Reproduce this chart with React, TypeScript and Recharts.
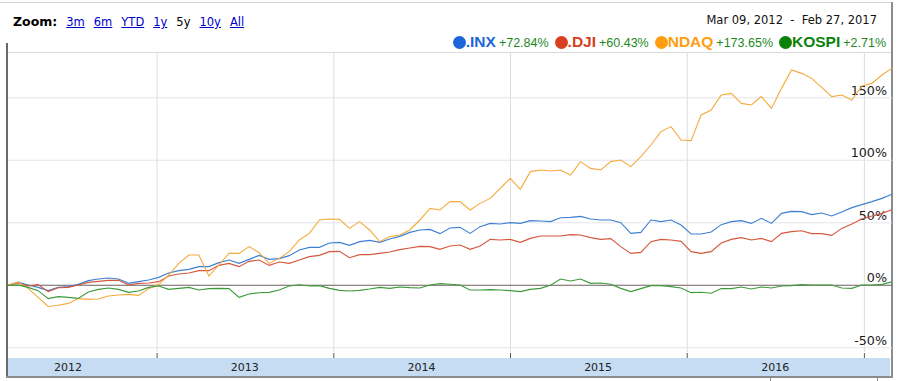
import { Line, LineChart, ReferenceLine, XAxis, YAxis } from 'recharts'

// 5y window, sampled about every three weeks
const START = Date.UTC(2012, 1, 28)
const END = Date.UTC(2017, 1, 27)

const inx = [
  0, 2.6, 0.2, -1.7, -4.3, -1.7, -1.1, 0.7, 3.7, 5, 5.8, 5, 1.5, 2.9, 4.2, 6.3, 9.8, 11.7, 12.7, 14.9, 14.9, 18.1, 20.2,
  17.5, 20.7, 23.9, 20.7, 21.3, 23.7, 28.2, 30.3, 30.3, 33.8, 34.3, 31.9, 34.9, 35.9, 34.3, 37, 39.1, 42.3, 44.2, 44.7, 41.3, 45.8,
  46.3, 41.5, 46.9, 49.5, 49, 50.1, 49.5, 51.7, 51.4, 50.9, 54, 54.3, 55.1, 53, 52.2, 52.2, 50.1, 41.5, 42.3, 52.2, 50.9, 52.2,
  48.2, 41, 41, 42.6, 48.5, 50.9, 51.7, 49.5, 53.5, 49.5, 57.5, 59.1, 58.9, 56.5, 57.8, 55.4, 58.6, 62.1, 64.5, 66.9, 69.5, 72.84,
]
const dji = [
  0, 1.8, -0.6, 0.5, -5.1, -2, -1.7, 0.2, 2.3, 3.1, 3.9, 3.9, 0.2, 1.5, 1.8, 2.9, 7.4, 9, 9.8, 11.7, 11.7, 15.9, 17.5,
  14.9, 19.1, 20.2, 15.9, 18.6, 17.5, 20.2, 22.9, 23.9, 26.9, 27.1, 22, 24.5, 24.5, 25.5, 26.6, 28.5, 29.8, 31.1, 30.9, 28.7, 31.4,
  32.2, 28.7, 31.4, 36.7, 36.2, 36.7, 34.3, 37.5, 39.4, 39.4, 39.4, 40.5, 40.2, 38.1, 36.7, 37.3, 30.9, 25.5, 26.3, 34.9, 36.7, 36.2,
  35.1, 26.9, 25.5, 26.9, 33.8, 36.7, 38.1, 36.2, 37.5, 34.9, 41.5, 42.9, 43.6, 41.3, 41.3, 39.9, 45.5, 49, 53, 55.4, 57.5, 60.43,
]
const ndaq = [
  0, 2.6, -2.5, -9.7, -17, -16, -14.5, -10.7, -11.3, -11, -8.6, -7.8, -7.3, -8.1, -2.7, 0.5, 8.2, 17.5, 24.2, 24.2, 7.4, 16.2, 25.5,
  25.5, 30.9, 26, 17.5, 21.5, 26.9, 36.2, 41.5, 52.2, 53, 52.7, 45.5, 50.9, 44.2, 34.9, 38.9, 40.2, 44.2, 52.2, 61.5, 60.2, 66.9,
  66.9, 60.2, 65.5, 69.5, 77.5, 85.5, 76.7, 90.9, 92.2, 91.4, 92.2, 88.2, 98.9, 93.5, 92.2, 98.9, 100.2, 94.9, 102.9, 112.2, 122.9, 126.9,
  116.2, 115.7, 136.2, 140.2, 152.2, 153.5, 145.5, 144.2, 150.9, 141.5, 157.5, 172.2, 169.5, 165.5, 158.3, 150.9, 152.2, 148.2, 159.4, 161.5, 168.2, 173.65,
]
const kospi = [
  0, 0.2, -1.7, -4.3, -10.7, -9.1, -9.7, -10.5, -5.4, -3.3, -2.2, -3.3, -5.7, -4.6, -1.7, -0.6, -3.3, -2.5, -1.7, -3.8, -2.7, -2.5, -2.7,
  -9.7, -7, -6, -5.7, -3.8, -0.6, 0.4, -0.6, -0.3, -2.5, -4.1, -4.6, -4.1, -3, -1.7, -2.5, -1.4, -1.9, -2.2, 0.2, 1.3, 0.8,
  0.2, -3.8, -3.8, -3.5, -3.8, -4.3, -5.1, -3.3, -2.5, 0, 5, 3.4, 5, 1.5, 1.8, 0.8, -2.5, -5.1, -2.7, -0.3, -0.3, -1.1,
  -2.2, -5.9, -5.6, -6.4, -2.7, -2.7, -1.4, -3, -1.4, -2.2, -0.6, -0.3, 0.5, 0.2, 0.2, 0.2, -2.2, -2.5, 0.2, 0.2, 0.7, 2.71,
]

const yTicks = [-50, 0, 50, 100, 150]
const yearStarts = [2013, 2014, 2015, 2016, 2017].map((y) => Date.UTC(y, 0, 1))
const yearMids = [2012, 2013, 2014, 2015, 2016].map((y) => Date.UTC(y, 6, 1))

const zoomLinks = ['3m', '6m', 'YTD', '1y', '5y', '10y', 'All']
const activeZoom = '5y'

const seriesKeys = ['inx', 'dji', 'ndaq', 'kospi']
const seriesNames = ['.INX', '.DJI', 'NDAQ', 'KOSPI']
const seriesChanges = ['+72.84%', '+60.43%', '+173.65%', '+2.71%']
const legendColors = ['#1b66d8', '#d6401e', '#ff9c0f', '#0a820a']
const lineColors = ['#3f7fd3', '#d4583c', '#f4aa3a', '#3d9a3a']

const step = (END - START) / (inx.length - 1)
const data = inx.map((v, i) => ({
  t: START + i * step,
  inx: v,
  dji: dji[i],
  ndaq: ndaq[i],
  kospi: kospi[i],
}))

const FONT = '"DejaVu Sans", Verdana, sans-serif'

// percent label sitting just above its gridline, flush right
function pctLabel(value: number) {
  return (props: any) => {
    const vb = props.viewBox || {}
    return (
      <text
        x={vb.x + vb.width - 5}
        y={vb.y - 3}
        textAnchor="end"
        fontSize={12.7}
        fill="#1a1a1a"
        fontFamily={FONT}
      >
        {`${value}%`}
      </text>
    )
  }
}

// year boundaries get a small tick mark, mid-years get the year label
function TimeTick(props: any) {
  const v = props.payload.value
  if (yearStarts.includes(v)) {
    return <line x1={props.x} x2={props.x} y1={props.y - 10} y2={props.y - 5} stroke="#555" />
  }
  return (
    <text x={props.x} y={props.y} dy="0.71em" textAnchor="middle" fontSize={11} fill="#222" fontFamily={FONT}>
      {new Date(v).getUTCFullYear()}
    </text>
  )
}

const box = (left: number, top: number, width: number, height: number, background: string) => (
  <div style={{ position: 'absolute', left, top, width, height, background }} />
)

export default function App() {
  return (
    <div
      style={{
        position: 'absolute',
        left: 0,
        top: 0,
        width: 900,
        height: 381,
        background: '#fff',
        overflow: 'hidden',
        fontFamily: FONT,
      }}
    >
      {/* frame */}
      {box(0, 2, 893, 1, '#d2d2d2')}
      {box(6, 43, 2, 335, '#6a6a6a')}
      {box(891, 2, 2, 376, '#8c8c8c')}
      {box(6, 376, 887, 2, '#8c8c8c')}
      {box(770, 378, 1, 3, '#8c8c8c')}
      {box(877, 378, 1, 3, '#8c8c8c')}
      {/* time band + plot top edge */}
      {box(8, 358, 882, 18, '#c6dcf3')}
      {box(8, 52, 883, 1, '#dadada')}

      {/* zoom links */}
      <div
        style={{
          position: 'absolute',
          left: 13,
          top: 14,
          display: 'flex',
          alignItems: 'baseline',
          gap: 9,
          lineHeight: '15px',
          whiteSpace: 'nowrap',
        }}
      >
        <span style={{ fontWeight: 'bold', fontSize: 12.5, color: '#000' }}>Zoom:</span>
        {zoomLinks.map((z) => (
          <span
            key={z}
            style={{
              fontSize: 11.5,
              color: z === activeZoom ? '#000' : '#0000cc',
              textDecoration: z === activeZoom ? 'none' : 'underline',
            }}
          >
            {z}
          </span>
        ))}
      </div>

      {/* date range */}
      <div
        style={{
          position: 'absolute',
          right: 23,
          top: 13,
          fontSize: 11.5,
          lineHeight: '14px',
          color: '#111',
          whiteSpace: 'pre',
        }}
      >
        {'Mar 09, 2012  -  Feb 27, 2017'}
      </div>

      {/* legend */}
      <div
        style={{
          position: 'absolute',
          right: 14,
          top: 33,
          display: 'flex',
          alignItems: 'center',
          fontFamily: '"Liberation Sans", Arial, sans-serif',
          lineHeight: '18px',
          whiteSpace: 'nowrap',
        }}
      >
        {seriesNames.map((name, i) => (
          <div key={name} style={{ display: 'flex', alignItems: 'baseline', marginLeft: i === 0 ? 0 : 6 }}>
            <span
              style={{
                display: 'inline-block',
                width: 13,
                height: 13,
                borderRadius: '50%',
                background: legendColors[i],
                alignSelf: 'center',
              }}
            />
            <span style={{ fontWeight: 'bold', fontSize: 15.5, color: legendColors[i] }}>{name}</span>
            <span style={{ fontSize: 12.5, color: '#1c8a1c', marginLeft: 3 }}>{seriesChanges[i]}</span>
          </div>
        ))}
      </div>

      <div style={{ position: 'absolute', left: 0, top: 0 }}>
        <LineChart width={900} height={381} data={data} margin={{ top: 53, right: 8, bottom: 0, left: 8 }}>
          <XAxis
            dataKey="t"
            type="number"
            domain={[START, END]}
            ticks={[...yearStarts, ...yearMids]}
            allowDataOverflow
            height={29}
            axisLine={false}
            tickLine={false}
            tickMargin={5}
            interval={0}
            tick={<TimeTick />}
          />
          <YAxis hide domain={[-53.4, 185.8]} ticks={yTicks} allowDataOverflow />
          {yearStarts.map((t) => (
            <ReferenceLine key={t} x={t} stroke="#dedede" />
          ))}
          {yTicks.map((v) => (
            <ReferenceLine
              key={v}
              y={v}
              stroke={v === 0 ? '#6e5f5f' : '#e4e4ee'}
              label={pctLabel(v)}
            />
          ))}
          {seriesKeys.map((k, i) => (
            <Line
              key={k}
              type="linear"
              dataKey={k}
              stroke={lineColors[i]}
              strokeWidth={1.1}
              dot={false}
              isAnimationActive={false}
            />
          ))}
        </LineChart>
      </div>
    </div>
  )
}
